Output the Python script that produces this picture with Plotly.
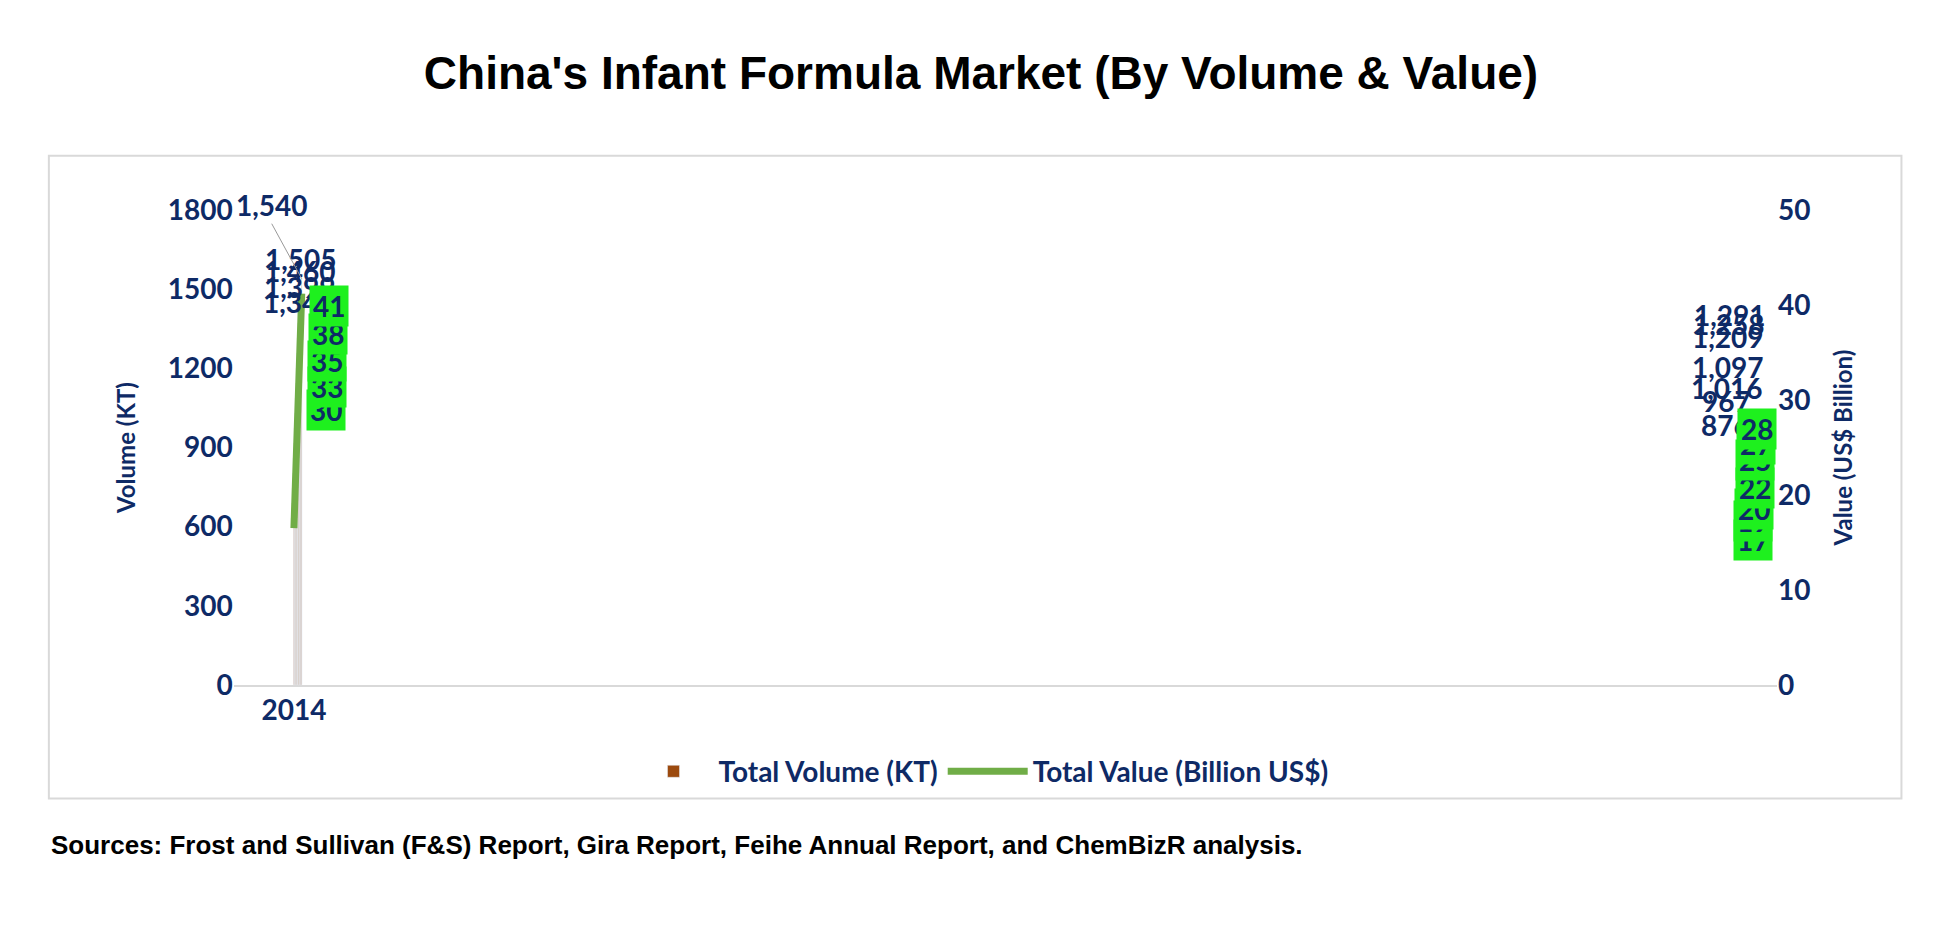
import plotly.graph_objects as go

years = ["2014", "2015", "2016", "2017", "2018", "2019", "2020",
         "2021(P)", "2022(P)", "2023(P)", "2024(P)", "2025(P)"]
volume = [876, 967, 1016, 1097, 1209, 1258, 1291, 1342, 1399, 1460, 1505, 1540]
value = [16.5, 18.5, 19.8, 22.0, 25.0, 26.6, 28.2, 30.2, 32.6, 35.4, 38.2, 41.2]
value_labels = ["17", "19", "20", "22", "25", "27", "28", "30", "33", "35", "38", "41"]

navy = "#0E2A66"
font = "Lato"

fig = go.Figure()
fig.add_trace(go.Bar(x=years, y=volume, name="Total Volume (KT)",
                     marker_color="#9C4A0E", width=0.5))
fig.add_trace(go.Scatter(x=years, y=value, name="Total Value (Billion US$)", yaxis="y2",
                         mode="lines", line=dict(color="#70AD47", width=7)))

# bar labels
for i, (yr, v) in enumerate(zip(years, volume)):
    if i == len(years) - 1:
        fig.add_annotation(x=yr, y=v, text=f"{v:,}", showarrow=True, ax=-30, ay=-55,
                           arrowhead=0, arrowcolor="#999999", arrowwidth=1,
                           font=dict(size=28, color=navy, family=font), yanchor="bottom")
    else:
        fig.add_annotation(x=yr, y=v, text=f"{v:,}", showarrow=False, yanchor="bottom",
                           yshift=10, font=dict(size=28, color=navy, family=font))

# value labels
for yr, v, t in zip(years, value, value_labels):
    fig.add_annotation(x=yr, y=v, yref="y2", text=t, showarrow=False,
                       xshift=27, yshift=-12, bgcolor="#1EF01E", borderpad=3,
                       font=dict(size=28, color=navy, family=font))

fig.add_shape(type="rect", xref="paper", yref="paper", x0=0.021, x1=0.973,
              y0=0.136, y1=0.855, line=dict(color="#D9D9D9", width=2), layer="below")

fig.add_annotation(xref="paper", yref="paper", x=0.021, y=0.065, xanchor="left",
                   text="<b>Sources: Frost and Sullivan (F&S) Report, Gira Report, Feihe Annual Report, and ChemBizR analysis.</b>",
                   showarrow=False, font=dict(size=26, color="black", family="Liberation Sans"))

fig.update_layout(
    width=1946, height=928,
    margin=dict(l=0, r=0, t=0, b=0),
    plot_bgcolor="white", paper_bgcolor="white",
    title=dict(text="<b>China's Infant Formula Market (By Volume & Value)</b>",
               x=0.5, y=0.93, xanchor="center", yanchor="middle",
               font=dict(size=46, color="black", family="Liberation Sans")),
    xaxis=dict(type="category", domain=[0.116, 0.909], showline=True, linecolor="#D9D9D9",
               linewidth=2, tickfont=dict(size=28, color=navy, family=font), ticks=""),
    yaxis=dict(domain=[0.263, 0.794], range=[0, 1800], dtick=300, showgrid=False,
               title=dict(text="<b>Volume (KT)</b>", font=dict(size=24, color=navy, family=font), standoff=25),
               tickfont=dict(size=28, color=navy, family=font), tickformat="d"),
    yaxis2=dict(overlaying="y", side="right", range=[0, 50], dtick=10, showgrid=False,
                title=dict(text="<b>Value (US$ Billion)</b>", font=dict(size=24, color=navy, family=font), standoff=25),
                tickfont=dict(size=28, color=navy, family=font)),
    legend=dict(orientation="h", x=0.5, xanchor="center", y=0.166, yanchor="middle",
                font=dict(size=28, color=navy, family=font), itemwidth=80),
    font=dict(family=font),
)
fig.update_xaxes(tickfont=dict(weight="bold"))
fig.update_yaxes(tickfont=dict(weight="bold"))
fig.update_layout(yaxis2_tickfont_weight="bold", legend_font_weight="bold")
for a in fig.layout.annotations:
    if a.font.family == font:
        a.font.weight = "bold"

fig.write_html("out.html")
